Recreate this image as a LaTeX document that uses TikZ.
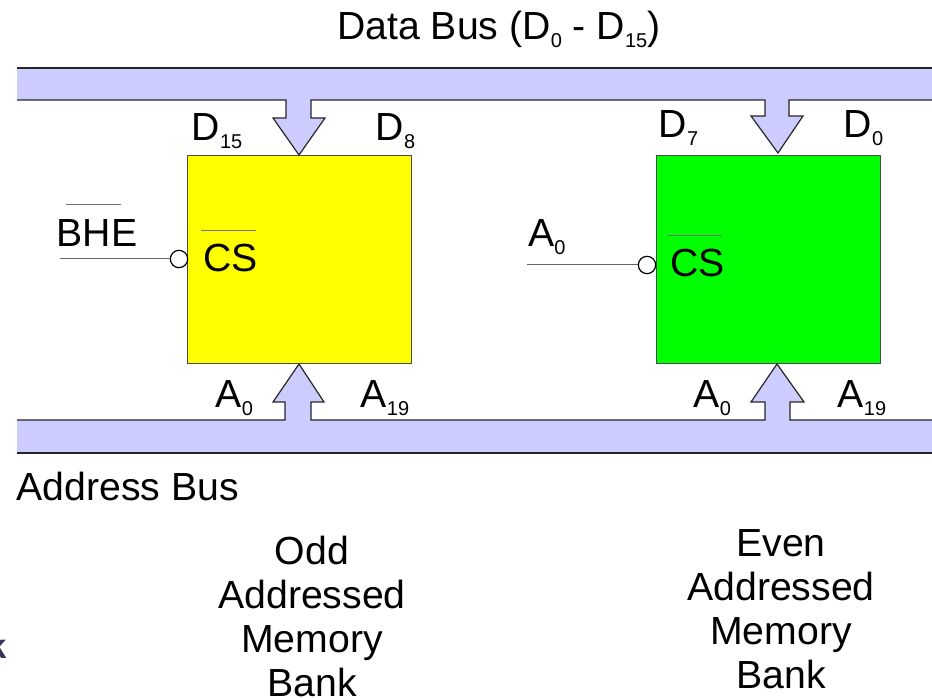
\documentclass[tikz,border=0pt]{standalone}
\usepackage{fontspec}
\setmainfont{Liberation Sans}
\usetikzlibrary{positioning}
\definecolor{busblue}{HTML}{CCCCFF}
\definecolor{bankyellow}{HTML}{FFFF00}
\definecolor{bankgreen}{HTML}{00FF00}
\definecolor{slidepurple}{HTML}{3B2F5B}
\newcommand{\sub}[1]{\raisebox{-6pt}{\fontsize{15}{15}\selectfont #1}}
\tikzset{
  bigtext/.style={font=\fontsize{29.4}{33}\selectfont, inner sep=0pt, anchor=base west},
  bank/.style={rectangle, draw=black!70, line width=0.75pt, inner sep=0pt, anchor=north west,
    minimum width=168pt, minimum height=156pt},
  bubble/.style={circle, draw=black, fill=white, line width=0.9pt, inner sep=0pt, minimum size=13pt},
  caption/.style={font=\fontsize{29.4}{33}\selectfont, align=center, inner sep=0pt, anchor=north},
  busfill/.style={fill=busblue},
  busline/.style={draw=black!85, line width=0.9pt},
  wire/.style={draw=black!60, line width=0.75pt},
  overbar/.style={draw=black!55, line width=0.6pt},
}
\begin{document}
\begin{tikzpicture}[x=0.75pt,y=-0.75pt]
      \useasboundingbox (0,0) rectangle (932,698);

      \node[bank, fill=bankyellow] (bank1) at (187,155) {};
      \node[bank, fill=bankgreen] (bank2) at (656,155) {};

      % data bus
      \fill[busfill] (17,68) -- (932,68) -- (932,100) -- (789,100) -- (789,116) -- (803,116) -- (778,153)
        -- (751,116) -- (765,116) -- (765,100) -- (311,100) -- (311,118) -- (325,118) -- (299,155)
        -- (273,118) -- (286,118) -- (286,100) -- (17,100) -- cycle;
      \path[busline] (17,68) -- (932,68);
      \path[busline] (17,100) -- (286,100) -- (286,118) -- (273,118) -- (299,155) -- (325,118) -- (311,118)
        -- (311,100) -- (765,100) -- (765,116) -- (751,116) -- (778,153) -- (803,116) -- (789,116)
        -- (789,100) -- (932,100);

      % address bus
      \fill[busfill] (17,420) -- (285,420) -- (285,402) -- (273,402) -- (299,364) -- (324,402) -- (311,402)
        -- (311,420) -- (765,420) -- (765,402) -- (751,402) -- (777,364) -- (804,402) -- (790,402)
        -- (790,420) -- (932,420) -- (932,453) -- (17,453) -- cycle;
      \path[busline] (17,420) -- (285,420) -- (285,402) -- (273,402) -- (299,364) -- (324,402) -- (311,402)
        -- (311,420) -- (765,420) -- (765,402) -- (751,402) -- (777,364) -- (804,402) -- (790,402)
        -- (790,420) -- (932,420);
      \path[busline] (17,453) -- (932,453);

      \node[bigtext] (title) at (337,40) {Data Bus (D\sub{0} - D\sub{15})};
      \node[bigtext] (addrbus) at (16.5,500) {Address Bus};

      \node[bigtext] (d15) at (191.5,141) {D\sub{15}};
      \node[bigtext] (d8) at (375.5,141) {D\sub{8}};
      \node[bigtext] (d7) at (658.5,138) {D\sub{7}};
      \node[bigtext] (d0) at (843.5,138) {D\sub{0}};

      \node[bigtext] (a0l) at (215.5,408) {A\sub{0}};
      \node[bigtext] (a19l) at (360.5,408) {A\sub{19}};
      \node[bigtext] (a0r) at (693.5,408) {A\sub{0}};
      \node[bigtext] (a19r) at (837.5,408) {A\sub{19}};

      \node[bigtext] (bhe) at (56.5,247) {BHE};
      \node[bigtext] (a0sel) at (528,247) {A\sub{0}};
      \node[bigtext] (cs1) at (203,272) {CS};
      \node[bigtext] (cs2) at (670,277) {CS};

      \path[overbar] (66,204) -- (121,204);
      \path[overbar] (201,230) -- (256,230);
      \path[overbar] (667,235) -- (722,235);

      \coordinate (AuxNode01) at (60,259);
      \coordinate (AuxNode02) at (527,265);
      \node[bubble] (bubble1) at (179,259) {};
      \node[bubble] (bubble2) at (647,265) {};
      \path[wire] (AuxNode01) -- (bubble1.west);
      \path[wire] (AuxNode02) -- (bubble2.west);

      \node[caption] (oddbank) at (312,536) {Odd\\Addressed\\Memory\\Bank};
      \node[caption] (evenbank) at (781,529) {Even\\Addressed\\Memory\\Bank};

      \node[font=\fontsize{26}{26}\selectfont\bfseries, text=slidepurple, inner sep=0pt, anchor=base east] (cutoff) at (7,658) {k};
\end{tikzpicture}
\end{document}
